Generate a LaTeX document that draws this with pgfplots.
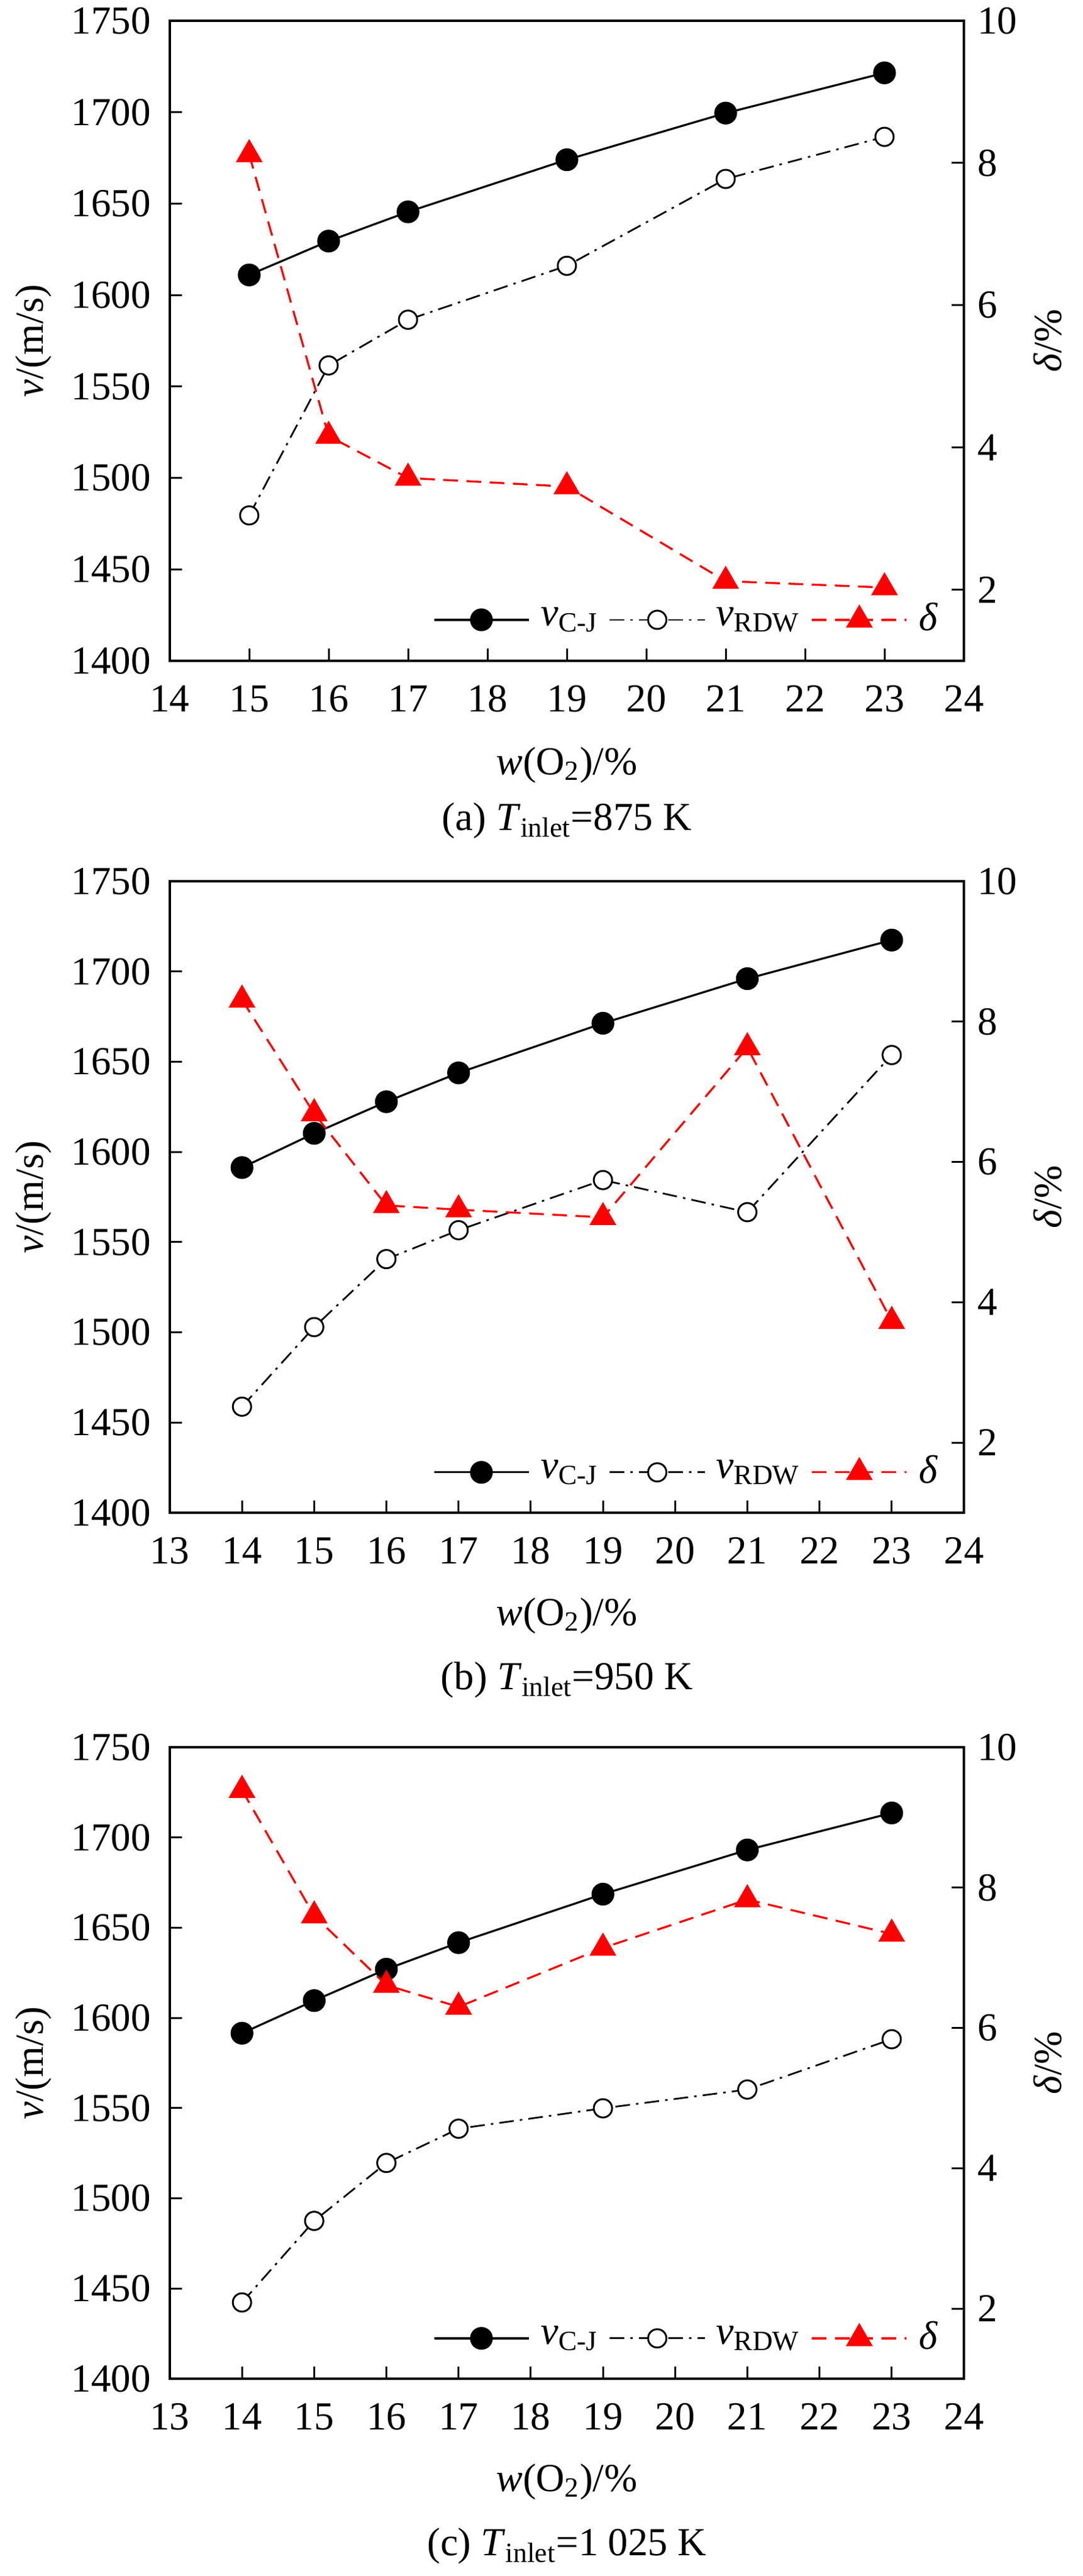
\documentclass[border=0pt]{standalone}
\usepackage{fontspec}
\setmainfont{Liberation Serif}
\usepackage{pgfplots}
\pgfplotsset{compat=1.18}
\pgfplotsset{
  legend image code/.code={\draw[mark repeat=2,mark phase=2,#1] plot coordinates {(0mm,0mm) (7.75mm,0mm) (15.5mm,0mm)};},
  panel/.style={
    scale only axis, width=130mm,
    tick align=inside, major tick length=2mm, minor tick num=0,
    axis line style={line width=0.4mm},
    every tick/.style={black, line width=0.3mm},
    /pgf/number format/assume math mode=true,
    /pgf/number format/1000 sep={},
  },
  leftax/.style={panel,
    ymin=1400, ymax=1750, ytick={1400,1450,...,1750},
    ytick pos=left, xtick pos=bottom,
    ylabel={\textit{v}/(m/s)},
    ylabel style={at={(axis description cs:-0.1715,0.5)}, anchor=center},
    xlabel={\textit{w}(O\textsubscript{2})/\%},
    xlabel style={at={(axis description cs:0.5,-0.163)}, anchor=center},
    yticklabel style={xshift=-0.9mm},
    xticklabel style={yshift=-1.8mm},
  },
  rightax/.style={panel,
    ymin=1, ymax=10, ytick={2,4,6,8,10},
    axis y line*=right, axis x line=none,
    ylabel={\textit{δ}/\%},
    ylabel style={at={(axis description cs:1.1054,0.5)}, anchor=center},
    legend columns=3,
    legend style={draw=none, fill=none, inner sep=0pt, outer sep=0pt,
      at={(axis description cs:0.3315,0.064)}, anchor=west,
      /tikz/column sep=1.8mm, nodes={inner sep=0pt}},
    legend cell align=left,
  },
  cj/.style={black, line width=0.33mm, mark=*, mark size=1.7mm, mark options={solid, fill=black}},
  rdw/.style={black, line width=0.28mm, dash pattern=on 2.4mm off 1mm on 0.4mm off 1mm,
    mark=*, mark size=1.5mm, mark options={solid, fill=white, draw=black, line width=0.3mm}},
  dl/.style={red, line width=0.33mm, dash pattern=on 2.4mm off 1.4mm,
    mark=triangle*, mark size=2.2mm, mark options={solid, fill=red, draw=red}},
}
\begin{document}
\fontsize{18.5}{22}\selectfont
\begin{tikzpicture}
\useasboundingbox (0,0) rectangle (177.2mm,-421.8mm);

% ---------- (a) ----------
\begin{axis}[leftax, at={(27.8mm,-3.4mm)}, anchor=north west, height=104.8mm,
  xmin=14, xmax=24, xtick={14,...,24}]
\addplot[cj] coordinates {(15,1611) (16,1629.5) (17,1645.5) (19,1674) (21,1699.5) (23,1721.5)};
\addplot[rdw] coordinates {(15,1479.5) (16,1561.5) (17,1586.5) (19,1616) (21,1663.5) (23,1686.5)};
\end{axis}
\begin{axis}[rightax, at={(27.8mm,-3.4mm)}, anchor=north west, height=104.8mm,
  xmin=14, xmax=24]
\addlegendimage{cj}
\addlegendentry{\textit{v}\textsubscript{C-J}}
\addlegendimage{rdw}
\addlegendentry{\textit{v}\textsubscript{RDW}}
\addplot[dl] coordinates {(15,8.12) (16,4.16) (17,3.57) (19,3.45) (21,2.12) (23,2.03)};
\addlegendentry{\textit{δ}}
\end{axis}
\node at (92.8mm,-134.4mm) {(a) \textit{T}\textsubscript{inlet}=875 K};

% ---------- (b) ----------
\begin{axis}[leftax, at={(27.8mm,-144.3mm)}, anchor=north west, height=103.4mm,
  xmin=13, xmax=24, xtick={13,...,24}]
\addplot[cj] coordinates {(14,1591.3) (15,1610.3) (16,1627.8) (17,1643.8) (19,1671.3) (21,1696) (23,1717.4)};
\addplot[rdw] coordinates {(14,1458.8) (15,1502.9) (16,1540.6) (17,1556.6) (19,1584.4) (21,1566.6) (23,1653.7)};
\end{axis}
\begin{axis}[rightax, at={(27.8mm,-144.3mm)}, anchor=north west, height=103.4mm,
  xmin=13, xmax=24]
\addlegendimage{cj}
\addlegendentry{\textit{v}\textsubscript{C-J}}
\addlegendimage{rdw}
\addlegendentry{\textit{v}\textsubscript{RDW}}
\addplot[dl] coordinates {(14,8.31) (15,6.69) (16,5.38) (17,5.32) (19,5.21) (21,7.63) (23,3.73)};
\addlegendentry{\textit{δ}}
\end{axis}
\node at (92.8mm,-275.1mm) {(b) \textit{T}\textsubscript{inlet}=950 K};

% ---------- (c) ----------
\begin{axis}[leftax, at={(27.8mm,-286.1mm)}, anchor=north west, height=103.4mm,
  xmin=13, xmax=24, xtick={13,...,24}]
\addplot[cj] coordinates {(14,1591.5) (15,1609.6) (16,1627) (17,1641.7) (19,1668.6) (21,1693.1) (23,1713.6)};
\addplot[rdw] coordinates {(14,1442.3) (15,1487.5) (16,1519.6) (17,1538.6) (19,1549.9) (21,1560.3) (23,1588.2)};
\end{axis}
\begin{axis}[rightax, at={(27.8mm,-286.1mm)}, anchor=north west, height=103.4mm,
  xmin=13, xmax=24]
\addlegendimage{cj}
\addlegendentry{\textit{v}\textsubscript{C-J}}
\addlegendimage{rdw}
\addlegendentry{\textit{v}\textsubscript{RDW}}
\addplot[dl] coordinates {(14,9.39) (15,7.60) (16,6.61) (17,6.30) (19,7.14) (21,7.83) (23,7.34)};
\addlegendentry{\textit{δ}}
\end{axis}
\node at (92.8mm,-416.9mm) {(c) \textit{T}\textsubscript{inlet}=1 025 K};
\end{tikzpicture}
\end{document}
